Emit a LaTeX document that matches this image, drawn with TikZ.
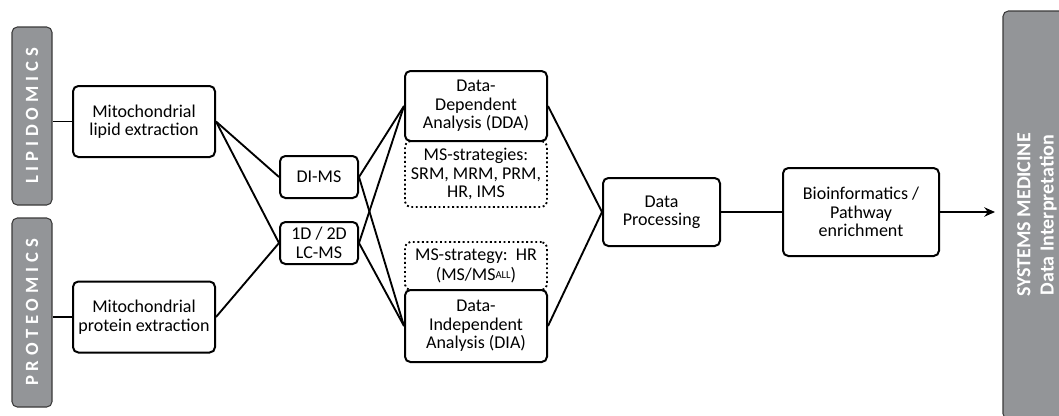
\documentclass[tikz,border=0pt]{standalone}
\usepackage{fontspec}
\setmainfont{Carlito}
\usepackage{tikz}
\usetikzlibrary{arrows.meta,positioning}
\definecolor{bargray}{HTML}{939598}
\definecolor{bardraw}{HTML}{3A3A3A}
\newcommand{\barfont}{\fontsize{14}{16}\selectfont\bfseries\addfontfeature{LetterSpace=26}}
\newcommand{\supall}{\raisebox{0.3ex}{\fontsize{8}{8}\selectfont ALL}}

\begin{document}
\begin{tikzpicture}[x=0.75pt, y=-0.75pt,
  procbox/.style={draw, line width=1.5pt, rounded corners=4pt, fill=white, align=center, font=\fontsize{13.5}{13.8}\selectfont, inner sep=1pt},
  stratbox/.style={draw, line width=1.4pt, dotted, rounded corners=4pt, align=center, font=\fontsize{13.5}{13.8}\selectfont, inner sep=1pt, minimum width=106.5pt},
  omicsbar/.style={draw=bardraw, line width=0.8pt, fill=bargray, rounded corners=4pt, rotate=90, minimum height=30pt, text=white, font=\barfont},
  link/.style={line width=1.4pt},
  arr/.style={-{Stealth[length=8pt, width=7pt]}, line width=1.4pt}
]
  \useasboundingbox (0,0) rectangle (1059,415);

  \node[omicsbar, minimum width=133.5pt] (lipid) at (32,116) {LIPIDOMICS};
  \node[omicsbar, minimum width=141.75pt] (prot) at (32,312.5) {PROTEOMICS};

  \node[procbox, minimum width=106.5pt, minimum height=53.25pt] (lipext) at (144,121.5) {Mitochondrial\\lipid extraction};
  \node[procbox, minimum width=106.5pt, minimum height=53.25pt] (protext) at (144,317) {Mitochondrial\\protein extraction};

  \node[procbox, minimum width=58.5pt, minimum height=31.5pt] (dims) at (319,177) {DI-MS};
  \node[procbox, minimum width=58.5pt, minimum height=31.5pt] (lcms) at (319,243) {1D / 2D\\LC-MS};

  \node[stratbox, minimum height=49.5pt] (ddastrat) at (476,174) {MS-strategies:\\SRM, MRM, PRM,\\HR, IMS};
  \node[stratbox, minimum height=36pt, font=\fontsize{13.5}{15}\selectfont] (diastrat) at (476,266) {MS-strategy:~~HR\\(MS/MS\supall)};
  \node[procbox, minimum width=106.5pt, minimum height=52.5pt] (dda) at (476,106) {Data-\\Dependent\\Analysis (DDA)};
  \node[procbox, minimum width=106.5pt, minimum height=54pt] (dia) at (476,326) {Data-\\Independent\\Analysis (DIA)};

  \node[procbox, minimum width=87.75pt, minimum height=51pt] (proc) at (661.5,212) {Data\\Processing};
  \node[procbox, minimum width=117pt, minimum height=66pt] (bioinf) at (861,212) {Bioinformatics /\\Pathway\\enrichment};

  \node[omicsbar, minimum width=306pt, minimum height=51pt, font=\fontsize{15}{17.5}\selectfont\bfseries, align=center] (sysmed) at (1037,215) {SYSTEMS MEDICINE\\Data Interpretation};
  \coordinate (systip) at (995,212);

  \draw[link] (lipid.south |- lipext.west) -- (lipext.west);
  \draw[link] (prot.south |- protext.west) -- (protext.west);
  \draw[link] (lipext.east) -- (dims.west);
  \draw[link] (lipext.east) -- (lcms.west);
  \draw[link] (protext.east) -- (lcms.west);
  \draw[link] (dims.east) -- (dda.west);
  \draw[link] (dims.east) -- (dia.west);
  \draw[link] (lcms.east) -- (dda.west);
  \draw[link] (lcms.east) -- (dia.west);
  \draw[link] (dda.east) -- (proc.west);
  \draw[link] (dia.east) -- (proc.west);
  \draw[link] (proc.east) -- (bioinf.west);
  \draw[arr] (bioinf.east) -- (systip);
\end{tikzpicture}
\end{document}
